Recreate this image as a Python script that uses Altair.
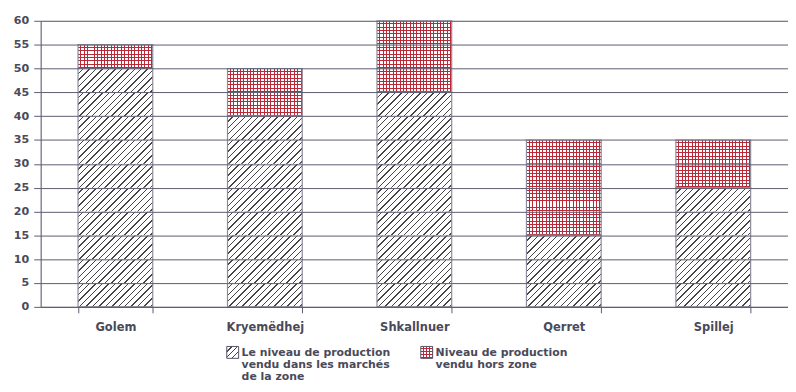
import math
import altair as alt
import pandas as pd

villages = ["Golem", "Kryemëdhej", "Shkallnuer", "Qerret", "Spillej"]
local_sales = [50, 40, 45, 15, 25]
outside_sales = [5, 10, 15, 20, 10]

legend_local = "Le niveau de production\nvendu dans les marchés\nde la zone"
legend_outside = "Niveau de production\nvendu hors zone"

W, H = 755, 289
YMAX = 60
STEP = 5
BAR_W = 0.5 * W / len(villages)
PX = H / YMAX
SEG_H = STEP * PX

df = pd.DataFrame({
    "village": villages,
    "local": local_sales,
    "outside": outside_sales,
})
df["zero"] = 0
df["total"] = df["local"] + df["outside"]

# bars split at every gridline so that each pattern tile is small
rows = []
for v, lo, out in zip(villages, local_sales, outside_sales):
    y = 0
    while y < lo:
        rows.append({"village": v, "kind": "local", "y0": y, "y1": min(y + STEP, lo)})
        y += STEP
    y = lo
    while y < lo + out:
        rows.append({"village": v, "kind": "outside", "y0": y, "y1": min(y + STEP, lo + out)})
        y += STEP
seg = pd.DataFrame(rows)

FONT = "DejaVu Sans"
GRID = "#5c5c70"
LABEL = "#4a4a5a"
EDGE = "#8c8c9c"
HATCH = "#444444"
RED = "#b82a38"
CLEAR = "rgba(255,255,255,0)"


def stripe_stops(length, period, lw, bg, fg):
    stops = []
    n = int(math.ceil(length / period))
    for k in range(n):
        a = min(k * period / length, 1)
        b = min((k * period + period - lw) / length, 1)
        c = min((k + 1) * period / length, 1)
        stops += [alt.GradientStop(offset=a, color=bg), alt.GradientStop(offset=b, color=bg),
                  alt.GradientStop(offset=b, color=fg), alt.GradientStop(offset=c, color=fg)]
    return stops


def hatch_grad(w, h, period=4.6, lw=1.0):
    s = (1 / h + 1 / w) / (1 / h ** 2 + 1 / w ** 2)
    L = (w + h) / math.sqrt(2)
    return alt.LinearGradient(gradient="linear", x1=0, y1=0, x2=s / h, y2=s / w,
                              stops=stripe_stops(L, period, lw, "#ffffff", HATCH))


def vstripes(w, period=3.4, lw=1.0):
    return alt.LinearGradient(gradient="linear", x1=0, y1=0, x2=1, y2=0,
                              stops=stripe_stops(w, period, lw, "#ffffff", RED))


def hstripes(h, period=3.4, lw=1.0):
    return alt.LinearGradient(gradient="linear", x1=0, y1=0, x2=0, y2=1,
                              stops=stripe_stops(h, period, lw, CLEAR, RED))


x_enc = alt.X("village:N", sort=villages,
              scale=alt.Scale(paddingInner=0.5, paddingOuter=0.25),
              axis=alt.Axis(title=None, labelAngle=0, tickBand="extent", tickSize=6,
                            labelPadding=9, labelFontSize=11.6, labelFontWeight="bold",
                            labelColor=LABEL, tickColor=GRID, domainColor=GRID,
                            labelFont=FONT, grid=False, zindex=1))
y_scale = alt.Scale(domain=[0, YMAX], nice=False)
y_axis = alt.Axis(title=None, values=list(range(0, YMAX + 1, 5)), grid=True, gridColor=GRID,
                  gridWidth=1, tickSize=7, labelPadding=5, labelFontSize=11.2,
                  labelFontWeight="bold", labelColor=LABEL, labelFont=FONT,
                  tickColor=GRID, domainColor=GRID, zindex=1)

sb = alt.Chart(seg)
layers = [
    sb.transform_filter(alt.datum.kind == "local").mark_bar(fill=hatch_grad(BAR_W, SEG_H)).encode(
        x=x_enc, y=alt.Y("y1:Q", scale=y_scale, axis=y_axis), y2="y0:Q"),
    sb.transform_filter(alt.datum.kind == "outside").mark_bar(fill=vstripes(BAR_W)).encode(
        x=x_enc, y=alt.Y("y1:Q", scale=y_scale, axis=y_axis), y2="y0:Q"),
    sb.transform_filter(alt.datum.kind == "outside").mark_bar(fill=hstripes(SEG_H)).encode(
        x=x_enc, y=alt.Y("y1:Q", scale=y_scale, axis=y_axis), y2="y0:Q"),
]
base = alt.Chart(df)
layers.append(base.mark_bar(fillOpacity=0, stroke=EDGE, strokeWidth=1.2).encode(
    x=x_enc, y=alt.Y("local:Q", scale=y_scale, axis=y_axis), y2="zero:Q"))
layers.append(base.mark_bar(fillOpacity=0, stroke=EDGE, strokeWidth=1.2).encode(
    x=x_enc, y=alt.Y("total:Q", scale=y_scale, axis=y_axis), y2="local:Q"))

# legend
one = alt.Chart(pd.DataFrame({"k": [0]}))
layers.append(one.mark_rect(fill=hatch_grad(12, 12, period=4.2, lw=1.0), stroke="#555566",
                            strokeWidth=1).encode(
    x=alt.value(188), x2=alt.value(200), y=alt.value(329), y2=alt.value(341)))
layers.append(one.mark_rect(fill=vstripes(12, period=3.0)).encode(
    x=alt.value(384), x2=alt.value(396), y=alt.value(329), y2=alt.value(341)))
layers.append(one.mark_rect(fill=hstripes(12, period=3.0), stroke="#555566", strokeWidth=1).encode(
    x=alt.value(384), x2=alt.value(396), y=alt.value(329), y2=alt.value(341)))
layers.append(one.mark_text(align="left", baseline="top", lineBreak="\n", lineHeight=12,
                            font=FONT, fontSize=11, fontWeight="bold",
                            color=LABEL).encode(
    x=alt.value(203), y=alt.value(330), text=alt.value(legend_local)))
layers.append(one.mark_text(align="left", baseline="top", lineBreak="\n", lineHeight=12,
                            font=FONT, fontSize=11, fontWeight="bold",
                            color=LABEL).encode(
    x=alt.value(399), y=alt.value(330), text=alt.value(legend_outside)))

chart = alt.layer(*layers).properties(
    width=W, height=H,
    padding={"left": 5, "top": 5, "right": 0, "bottom": 0},
).configure_view(stroke=None).configure(background="white")

chart.save("out.html", embed_options={"renderer": "svg", "actions": False})
